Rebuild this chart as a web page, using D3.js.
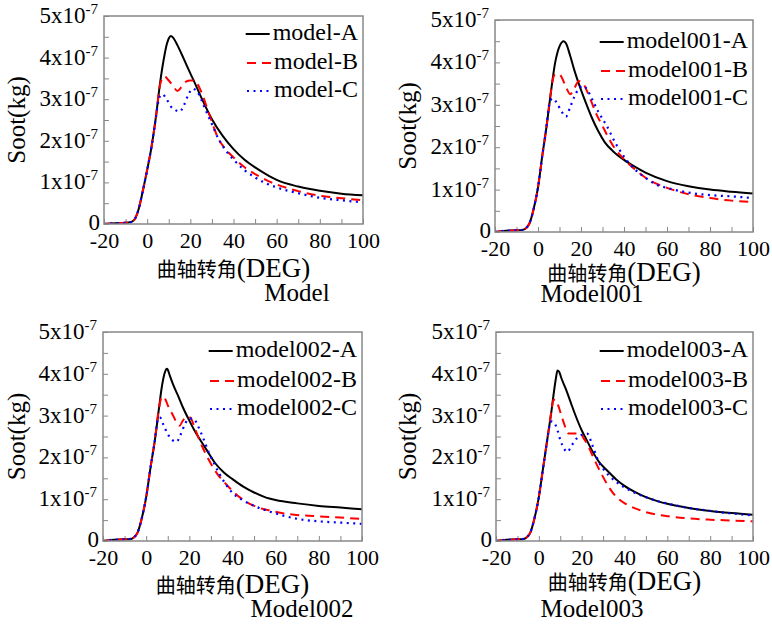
<!DOCTYPE html>
<meta charset="utf-8">
<style>
body { margin: 0; background: #fff; }
svg text { font-family: "Times New Roman", "Liberation Serif", "DejaVu Serif", serif; }
</style>
<svg width="772" height="626"></svg>
<script src="https://cdn.jsdelivr.net/npm/d3@7/dist/d3.min.js"></script>
<script>

// ---- data (soot mass in units of 1e-7 kg vs crank angle, deg) ----
var xTicks = [-20, 0, 20, 40, 60, 80, 100];
var yTicks = [0, 1, 2, 3, 4, 5];
var panelNames = ["Model", "Model001", "Model002", "Model003"];
var legendNames = [
  ["model-A", "model-B", "model-C"],
  ["model001-A", "model001-B", "model001-C"],
  ["model002-A", "model002-B", "model002-C"],
  ["model003-A", "model003-B", "model003-C"]
];

var rise1 = [[-20,0],[-15,0.02],[-10,0.03],[-8,0.04],[-6,0.1],[-4,0.35],[-2,0.8],[0,1.3],[2,1.85],[4,2.55]];
var tail1A = [[6,3.4],[7,3.75],[8,4.05],[9,4.3],[10,4.46],[11,4.52],[12,4.48],[14,4.3],[16,4.08],[18,3.85],[20,3.62],[22,3.4],[25,3.05],[30,2.52],[35,2.12],[40,1.8],[45,1.55],[50,1.36],[55,1.2],[60,1.06],[70,0.9],[80,0.8],[90,0.73],[100,0.69]];
var tail1B = [[6,3.35],[7,3.5],[8,3.55],[10,3.45],[12,3.32],[14,3.2],[16,3.3],[18,3.42],[20,3.45],[22,3.45],[24,3.3],[26,3.05],[28,2.75],[30,2.45],[33,2.05],[36,1.82],[40,1.6],[45,1.37],[50,1.2],[55,1.06],[60,0.95],[70,0.79],[80,0.68],[90,0.62],[100,0.57]];
var tail1C = [[5,2.9],[6,3.08],[7,3.12],[9,3.0],[11,2.82],[13,2.74],[15,2.7],[17,2.85],[19,3.1],[21,3.25],[23,3.2],[25,3.0],[27,2.75],[30,2.4],[33,2.05],[36,1.8],[40,1.55],[45,1.3],[50,1.12],[55,0.98],[60,0.88],[70,0.74],[80,0.63],[90,0.57],[100,0.52]];

var rise2 = [[-20,0],[-15,0.03],[-10,0.04],[-7,0.05],[-5,0.12],[-4,0.2],[-2,0.55],[0,1.05],[2,1.8],[4,2.5]];
var tail2A = [[6,3.3],[8,4.0],[10,4.38],[12,4.5],[13,4.45],[15,4.15],[17,3.8],[20,3.35],[23,2.95],[25,2.7],[28,2.38],[31,2.12],[35,1.9],[40,1.7],[45,1.54],[50,1.4],[60,1.2],[70,1.08],[80,1.0],[90,0.95],[100,0.91]];
var tail2B = [[6,3.3],[7,3.62],[8,3.72],[10,3.72],[11,3.65],[13,3.42],[15,3.25],[17,3.4],[19,3.56],[21,3.5],[23,3.3],[25,3.05],[27,2.8],[30,2.5],[33,2.2],[36,1.95],[40,1.72],[45,1.48],[50,1.28],[55,1.14],[60,1.04],[70,0.89],[80,0.8],[90,0.74],[100,0.71]];
var tail2C = [[5,2.95],[6,3.12],[7,3.15],[9,3.02],[11,2.84],[13,2.72],[15,2.95],[17,3.2],[19,3.38],[21,3.45],[23,3.35],[25,3.15],[28,2.84],[32,2.5],[36,2.1],[40,1.78],[45,1.48],[50,1.28],[55,1.12],[60,1.04],[70,0.93],[80,0.87],[90,0.84],[100,0.8]];

var rise3 = [[-20,0],[-15,0.03],[-10,0.04],[-7,0.05],[-5,0.12],[-4,0.2],[-2,0.55],[0,1.05],[2,1.75],[4,2.4]];
var tail3A = [[6,3.2],[7,3.6],[8,3.9],[9,4.08],[9.5,4.12],[10,4.1],[11,3.95],[12.5,3.74],[15,3.45],[17,3.2],[20,2.88],[22,2.68],[25,2.42],[28,2.18],[32,1.86],[36,1.64],[40,1.48],[45,1.3],[50,1.16],[55,1.05],[60,0.98],[70,0.9],[80,0.84],[90,0.8],[100,0.76]];
var tail3B = [[6,3.2],[7,3.42],[8,3.46],[9,3.38],[10,3.25],[12,3.05],[14,2.85],[15.5,2.76],[17,2.88],[19,2.97],[20.5,2.95],[22,2.78],[24,2.5],[26.5,2.2],[30,1.85],[33,1.6],[36,1.42],[40,1.2],[44,1.02],[48,0.89],[52,0.8],[58,0.72],[65,0.65],[73,0.61],[80,0.59],[90,0.56],[100,0.53]];
var tail3C = [[5,2.8],[5.5,2.95],[6.5,2.95],[8,2.78],[10,2.56],[12,2.42],[14,2.37],[16,2.55],[18,2.8],[20,2.93],[22,2.92],[24,2.75],[26.5,2.45],[29,2.12],[32,1.8],[34,1.6],[37,1.35],[40,1.15],[45,0.97],[50,0.84],[55,0.74],[60,0.66],[70,0.53],[80,0.47],[90,0.44],[100,0.41]];

var rise4 = [[-20,0],[-15,0.03],[-10,0.04],[-7,0.05],[-5,0.12],[-4,0.2],[-2,0.55],[0,1.05],[2,1.75],[4,2.45]];
var tail4A = [[6,3.15],[7,3.55],[8,3.9],[8.7,4.08],[9.5,4.05],[10.5,3.9],[12.5,3.65],[15,3.3],[17,3.02],[20,2.65],[22,2.45],[25,2.15],[28,1.9],[32,1.68],[36,1.48],[40,1.32],[45,1.17],[50,1.05],[55,0.96],[60,0.89],[70,0.79],[80,0.72],[90,0.67],[100,0.63]];
var tail4B = [[6,3.15],[6.8,3.38],[8,3.38],[9,3.25],[10,3.09],[11.5,2.85],[12.6,2.69],[14,2.57],[19.5,2.57],[21,2.45],[22.5,2.33],[25,2.05],[27.5,1.78],[29.6,1.57],[32,1.35],[34.3,1.17],[37,1.02],[40.5,0.89],[45,0.78],[50,0.69],[55,0.63],[60.6,0.59],[70,0.54],[80,0.51],[90,0.49],[100,0.47]];
var tail4C = [[5,2.75],[6,2.86],[7,2.84],[8.7,2.65],[10,2.42],[11,2.29],[13.3,2.13],[15,2.25],[16.4,2.37],[19.5,2.53],[22.6,2.57],[25,2.29],[28,1.89],[30,1.73],[32.7,1.57],[36,1.42],[39.7,1.29],[45,1.15],[50,1.05],[55,0.96],[60.6,0.89],[70,0.79],[80,0.72],[90,0.66],[100,0.61]];

var series = [
  [rise1.concat(tail1A), rise1.concat(tail1B), rise1.concat(tail1C)],
  [rise2.concat(tail2A), rise2.concat(tail2B), rise2.concat(tail2C)],
  [rise3.concat(tail3A), rise3.concat(tail3B), rise3.concat(tail3C)],
  [rise4.concat(tail4A), rise4.concat(tail4B), rise4.concat(tail4C)]
];

// ---- layout ----
var panels = [
  {l: 104, r: 363, t: 16, b: 224, legY: [24, 53, 81], titleDy: 53, nameX: 297, nameY: 301, ylabX: 25},
  {l: 495, r: 753, t: 20, b: 232, legY: [28, 57, 85], titleDy: 49, nameX: 592, nameY: 302, ylabX: 416},
  {l: 103, r: 362, t: 332, b: 541, legY: [25, 55, 83], titleDy: 52, nameX: 302, nameY: 617, ylabX: 25},
  {l: 496, r: 753, t: 332, b: 541, legY: [25, 55, 83], titleDy: 49, nameX: 592, nameY: 617, ylabX: 416}
];

var styles = [
  {color: "#000", dash: null, width: 2},
  {color: "#f00", dash: "9,6", width: 2},
  {color: "#00f", dash: "2,4.5", width: 2.2}
];

var serif = "'Times New Roman', 'Liberation Serif', 'DejaVu Serif', serif";
var svg = d3.select("svg").attr("font-family", serif);
var frameColor = "#888";

panels.forEach(function(p, pi) {
  var x = d3.scaleLinear().domain([-20, 100]).range([p.l, p.r]);
  var y = d3.scaleLinear().domain([0, 5]).range([p.b, p.t]);
  var g = svg.append("g").attr("font-family", serif);

  // inward ticks + x labels
  var xAxis = d3.axisBottom(x)
      .tickValues(d3.range(-20, 101, 10))
      .tickSize(-5)
      .tickPadding(8)
      .tickFormat(function(d) { return xTicks.indexOf(d) >= 0 ? d : ""; });
  var gx = g.append("g").attr("transform", "translate(0," + p.b + ")").call(xAxis);
  gx.attr("font-family", serif).attr("font-size", 22);
  gx.select(".domain").remove();
  gx.selectAll(".tick line").attr("stroke", frameColor);
  gx.selectAll(".tick text").attr("fill", "#000");

  var yAxis = d3.axisLeft(y)
      .tickValues(d3.range(0, 5.01, 0.5))
      .tickSize(-5)
      .tickFormat("");
  var gy = g.append("g").attr("transform", "translate(" + p.l + ",0)").call(yAxis);
  gy.select(".domain").remove();
  gy.selectAll(".tick line").attr("stroke", frameColor);

  // y labels with superscript exponent
  yTicks.forEach(function(v) {
    var t = g.append("text")
        .attr("x", v === 0 ? p.l - 4 : p.l - 6)
        .attr("y", y(v) + (v === 0 ? 6 : 7))
        .attr("text-anchor", "end")
        .attr("font-size", 23);
    if (v === 0) {
      t.text("0");
    } else {
      t.append("tspan").text(v + "x10");
      t.append("tspan").attr("dy", -9).attr("font-size", 15).text("-7");
    }
  });

  // curves
  var clipId = "clip" + pi;
  g.append("clipPath").attr("id", clipId)
    .append("rect").attr("x", p.l).attr("y", p.t).attr("width", p.r - p.l).attr("height", p.b - p.t);

  var line = d3.line()
      .x(function(d) { return x(d[0]); })
      .y(function(d) { return y(d[1]); })
      .curve(d3.curveMonotoneX);

  series[pi].forEach(function(s, si) {
    g.append("path")
        .attr("d", line(s))
        .attr("fill", "none")
        .attr("stroke", styles[si].color)
        .attr("stroke-width", styles[si].width)
        .attr("stroke-dasharray", styles[si].dash)
        .attr("clip-path", "url(#" + clipId + ")");
  });

  // frame
  g.append("rect")
      .attr("x", p.l).attr("y", p.t)
      .attr("width", p.r - p.l).attr("height", p.b - p.t)
      .attr("fill", "none")
      .attr("stroke", frameColor)
      .attr("stroke-width", 1.5);

  // legend
  legendNames[pi].forEach(function(name, si) {
    var by = p.t + p.legY[si];
    var t = g.append("text")
        .attr("x", p.r - 5)
        .attr("y", by)
        .attr("text-anchor", "end")
        .attr("font-size", 24)
        .text(name);
    var start = p.r - 5 - t.node().getComputedTextLength();
    g.append("line")
        .attr("x1", start - 27).attr("x2", start - 3)
        .attr("y1", by - 6).attr("y2", by - 6)
        .attr("stroke", styles[si].color)
        .attr("stroke-width", styles[si].width)
        .attr("stroke-dasharray", styles[si].dash);
  });

  // axis titles
  var title = g.append("text")
      .attr("x", (p.l + p.r) / 2)
      .attr("y", p.b + p.titleDy)
      .attr("text-anchor", "middle");
  title.append("tspan").attr("font-family", "'Noto Sans CJK SC'").attr("font-size", 20).text("曲轴转角");
  title.append("tspan").attr("font-size", 27).text("(DEG)");

  g.append("text")
      .attr("transform", "translate(" + p.ylabX + "," + ((p.t + p.b) / 2) + ") rotate(-90)")
      .attr("text-anchor", "middle")
      .attr("font-size", 25)
      .text("Soot(kg)");

  g.append("text")
      .attr("x", p.nameX)
      .attr("y", p.nameY)
      .attr("text-anchor", "middle")
      .attr("font-size", 25)
      .text(panelNames[pi]);
});

</script>
